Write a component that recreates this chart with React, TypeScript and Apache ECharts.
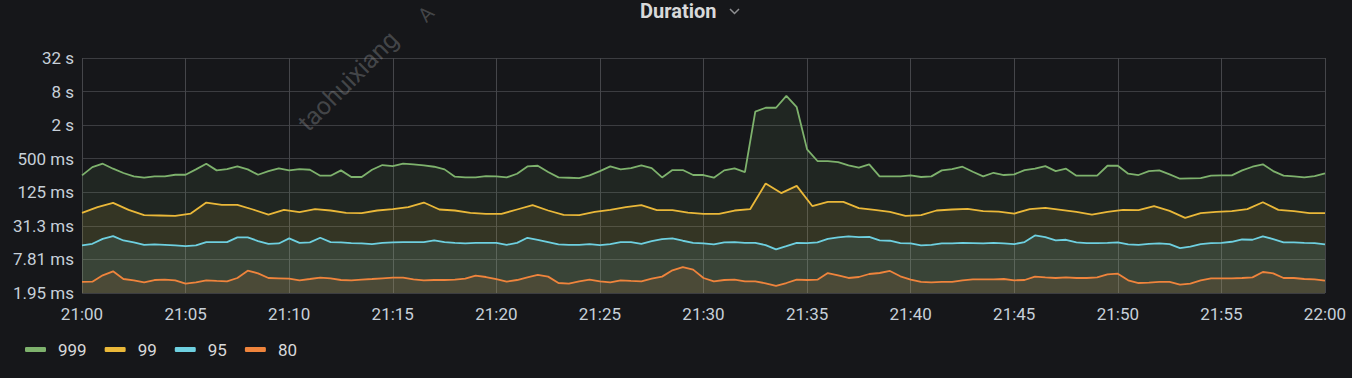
import React, { useEffect, useRef } from 'react';
import * as echarts from 'echarts';

// x: minutes after 21:00
const xTickLabels = ['21:00', '21:05', '21:10', '21:15', '21:20', '21:25', '21:30', '21:35', '21:40', '21:45', '21:50', '21:55', '22:00'];
// y: log4 scale, ticks from 1.953125 ms up to 32 s
const yTickLabels = ['1.95 ms', '7.81 ms', '31.3 ms', '125 ms', '500 ms', '2 s', '8 s', '32 s'];
const Y_BASE_MS = 1.953125;

const seriesNames = ['999', '99', '95', '80'];
const seriesColors = ['#7EB26D', '#EAB839', '#6ED0E0', '#EF843C'];

// sample step in minutes
const STEP_30S = 0.5;
const STEP_45S = 0.75;

// durations in ms
const p999 = [
  251, 354, 407, 331, 277, 241, 228, 241, 241, 258, 258, 322, 407, 309, 326, 364, 322, 258, 300, 335, 309, 326, 317, 248, 248, 309, 235, 235, 317, 385, 369,
  407, 396, 380, 359, 322, 238, 231, 231, 244, 241, 231, 269, 364, 374, 288, 231, 228, 225, 251, 300, 364, 322, 340, 380, 340, 231, 313, 313, 255, 255,
  228, 309, 335, 288, 3500, 4100, 4100, 6700, 4200, 735, 455, 454, 436, 380, 345, 396, 241, 241, 241, 251, 235, 241, 309, 326, 359, 292, 241, 280, 255, 262,
  313, 331, 369, 300, 331, 248, 248, 248, 374, 374, 269, 255, 300, 309, 262, 219, 222, 225, 248, 251, 251, 309, 359, 396, 300, 248, 241, 231, 244, 273,
];
const p99 = [
  53.4, 67.6, 80.8, 60.5, 48.5, 47.9, 47.2, 52.0, 81.9, 74.4, 74.4, 61.4, 49.9, 60.5, 54.9, 62.2, 58.9, 53.4, 52.8, 58.9, 62.2,
  67.6, 81.9, 61.4, 58.9, 53.4, 51.3, 51.3, 61.4, 73.4, 58.9, 49.2, 48.5, 55.7, 60.5, 67.6, 73.4, 59.7, 59.7, 54.2, 51.3,
  51.3, 58.9, 62.2, 180, 121, 163, 70.8, 84, 84, 64.8, 60.5, 55.7, 47.2, 48.5, 58.9, 61.4, 63.1, 57.3, 56.4, 52.0,
  62.2, 65.8, 60.5, 55.7, 49.9, 55.7, 60.5, 59.7, 70.4, 58.1, 43.5, 52.8, 55.7, 57.3, 62.2, 83.0, 60.5, 57.3, 52.8, 52.8,
];
const p95 = [
  13.9, 14.9, 18.3, 20.5, 17.1, 15.8, 14.3, 14.5, 14.3, 13.9, 13.5, 13.9, 16.0, 16.0, 16.0, 19.4, 19.4, 16.7, 14.9, 15.1, 18.6, 15.5, 15.8, 19.1, 16.0, 15.8, 15.3, 15.1, 14.7, 15.5, 15.8,
  16.0, 16.0, 16.0, 17.1, 16.0, 15.5, 15.1, 15.5, 15.5, 15.5, 14.3, 15.5, 19.1, 17.6, 16.0, 14.5, 14.3, 14.3, 14.7, 14.1, 14.7, 16.0, 16.0, 14.9, 16.7, 18.1, 18.6, 16.9, 15.5, 15.1,
  14.5, 15.8, 16.0, 15.5, 15.5, 14.1, 11.8, 13.5, 15.5, 15.3, 15.8, 18.3, 19.4, 20.2, 19.6, 19.9, 17.1, 16.9, 15.3, 15.1, 13.9, 14.3, 15.1, 15.1, 15.5, 15.3, 15.1, 15.5, 15.1, 14.7,
  16.0, 21.0, 19.6, 17.1, 17.6, 15.8, 15.3, 15.3, 15.5, 15.8, 14.5, 14.3, 14.9, 15.1, 14.7, 12.5, 13.2, 14.7, 15.3, 15.5, 16.2, 17.8, 17.6, 20.2, 18.1, 15.8, 15.8, 15.5, 15.3, 14.5,
];
const p80 = [
  3.08, 3.12, 4.05, 4.78, 3.48, 3.30, 3.03, 3.34, 3.39, 3.30, 2.87, 3.03, 3.30, 3.21, 3.16, 3.63, 4.91, 4.40, 3.63, 3.58, 3.53, 3.30, 3.48, 3.68, 3.58, 3.34, 3.30, 3.39, 3.48, 3.58, 3.68,
  3.68, 3.43, 3.30, 3.34, 3.34, 3.39, 3.53, 4.00, 3.78, 3.48, 3.12, 3.34, 3.73, 4.11, 3.84, 2.95, 2.87, 3.16, 3.39, 3.16, 3.03, 3.30, 3.21, 3.16, 3.53, 3.84, 4.98, 5.71, 5.12, 3.63,
  3.16, 3.34, 3.39, 3.16, 3.16, 2.91, 2.61, 2.95, 3.39, 3.34, 3.39, 4.46, 4.05, 3.63, 3.78, 4.28, 4.46, 4.85, 3.89, 3.39, 3.08, 3.03, 3.08, 3.08, 3.30, 3.43, 3.43, 3.43, 3.48, 3.30,
  3.34, 3.84, 3.73, 3.63, 3.73, 3.63, 3.63, 3.73, 4.22, 4.34, 3.30, 2.95, 2.99, 3.08, 3.08, 2.76, 2.87, 3.30, 3.58, 3.58, 3.58, 3.63, 3.73, 4.65, 4.40, 3.63, 3.63, 3.48, 3.43, 3.25,
];

const seriesValues = [p999, p99, p95, p80];
const seriesSteps = [STEP_30S, STEP_45S, STEP_30S, STEP_30S];

export default function App() {
  const ref = useRef<HTMLDivElement>(null);

  useEffect(() => {
    if (!ref.current) return;
    const chart = echarts.init(ref.current, null, { renderer: 'svg' });
    const level = (ms: number) => Math.log(ms / Y_BASE_MS) / Math.log(4);

    const series = seriesNames.map((name, si) => ({
      name,
      type: 'line',
      data: seriesValues[si].map((v, i) => [i * seriesSteps[si], level(v)]),
      symbol: 'none',
      showSymbol: false,
      lineStyle: { color: seriesColors[si], width: 1.8 },
      itemStyle: { color: seriesColors[si] },
      areaStyle: { color: seriesColors[si], opacity: 0.1 },
      emphasis: { disabled: true },
    }));

    chart.setOption({
      animation: false,
      backgroundColor: '#16171a',
      textStyle: { fontFamily: 'Roboto' },
      title: {
        text: 'Duration',
        left: 640,
        top: 1,
        padding: 0,
        textStyle: { color: '#d8d9da', fontSize: 20, fontWeight: 'bold', fontFamily: 'Roboto' },
      },
      legend: {
        left: 25,
        top: 341,
        padding: 0,
        icon: 'roundRect',
        itemWidth: 21,
        itemHeight: 5,
        itemGap: 18,
        textStyle: { color: '#d8d9da', fontSize: 17, padding: [0, 0, 0, 7] },
        data: seriesNames,
      },
      grid: { left: 82, right: 27, top: 58, bottom: 85 },
      xAxis: {
        type: 'value',
        min: 0,
        max: 60,
        interval: 5,
        axisLine: { show: false },
        axisTick: { show: false },
        axisLabel: {
          color: '#c7d0d9',
          fontSize: 17,
          margin: 12,
          formatter: (v: number) => xTickLabels[Math.round(v / 5)],
        },
        splitLine: { show: true, lineStyle: { color: '#45464a', width: 1 } },
      },
      yAxis: {
        type: 'value',
        min: 0,
        max: 7,
        interval: 1,
        axisLine: { show: false },
        axisTick: { show: false },
        axisLabel: {
          color: '#c7d0d9',
          fontSize: 17,
          margin: 8,
          formatter: (v: number) => yTickLabels[Math.round(v)],
        },
        splitLine: { show: true, lineStyle: { color: '#3c3d41', width: 1 } },
      },
      graphic: [
        {
          type: 'polyline',
          shape: { points: [[730, 9], [734.5, 13.5], [739, 9]] },
          style: { stroke: '#8e8f92', lineWidth: 1.5, fill: 'none' },
        },
        {
          type: 'text',
          x: 348,
          y: 81,
          rotation: Math.PI / 4,
          z: 100,
          style: {
            text: 'taohuixiang',
            fill: 'rgba(205,207,212,0.26)',
            font: '25px Roboto',
            textAlign: 'center',
            textVerticalAlign: 'middle',
          },
        },
        {
          type: 'text',
          x: 426,
          y: 14,
          rotation: Math.PI / 4,
          z: 100,
          style: {
            text: 'A',
            fill: 'rgba(205,207,212,0.26)',
            font: '20px Roboto',
            textAlign: 'center',
            textVerticalAlign: 'middle',
          },
        },
      ],
      series,
    });

    return () => chart.dispose();
  }, []);

  return <div ref={ref} style={{ position: 'fixed', left: 0, top: 0, width: 1352, height: 378 }} />;
}
